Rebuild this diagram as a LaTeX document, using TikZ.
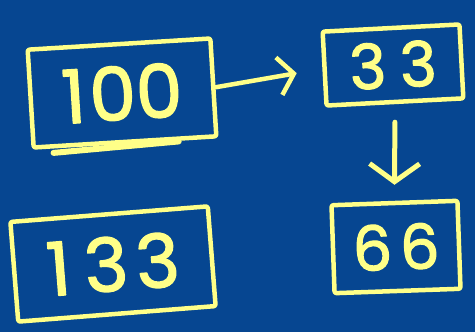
\documentclass[tikz,border=0pt]{standalone}
\usepackage{fontspec}
\newfontfamily\handfont{Poppins}[FakeBold=2]
\usetikzlibrary{arrows.meta}
\definecolor{board}{RGB}{6,70,145}
\definecolor{chalk}{HTML}{FFFF88}
\begin{document}
\begin{tikzpicture}[x=1pt,y=-1pt,line cap=round,line join=round,
  pen/.style={draw=chalk,line width=4.5pt},
  numbox/.style={pen,rounded corners=2pt,inner sep=0pt,text=chalk},
  big/.style={font=\handfont\fontsize{74}{74}\selectfont},
  mid/.style={font=\handfont\fontsize{62}{62}\selectfont},
  barb/.style={-{Straight Barb[length=15pt,width=38pt,line width=4.5pt]}},
  widebarb/.style={-{Straight Barb[length=18pt,width=50pt,line width=5pt]}}]
\useasboundingbox[fill=board] (0,0) rectangle (475,332);
% number boxes
\node[numbox,big,minimum width=183,minimum height=98,rotate=3.5] (hundred) at (122,93) {1\hspace{4pt}00};
\node[numbox,mid,minimum width=137,minimum height=74,rotate=3] (thirtythree) at (393,65) {3\hspace{14pt}3};
\node[numbox,mid,minimum width=126,minimum height=88,rotate=2] (sixtysix) at (396,247) {6\hspace{8pt}6};
\node[numbox,big,minimum width=198,minimum height=100,rotate=4.5] (onethirtythree) at (113,264) {1\hspace{14pt}3\hspace{8pt}3};
% scribble along the bottom of the first box
\draw[draw=chalk,line width=6pt] ([xshift=22pt,yshift=-3pt]hundred.south west) -- ([xshift=-40pt,yshift=-3pt]hundred.south east);
% arrows
\draw[pen,barb,shorten >=26pt] (hundred.east) -- (thirtythree.west);
\draw[pen,line width=5pt,widebarb,shorten <=18pt,shorten >=16pt] (thirtythree.south) -- (sixtysix.north);
\end{tikzpicture}
\end{document}
